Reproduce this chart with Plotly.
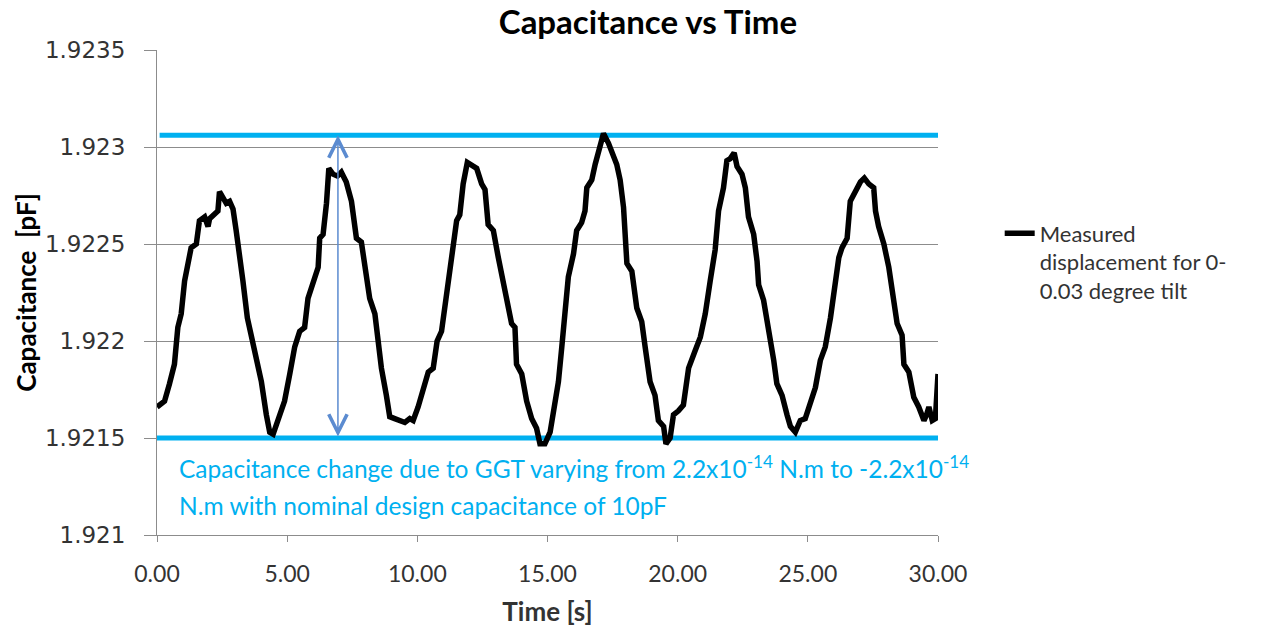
import plotly.graph_objects as go

# ---- data ----
time_s = [0.00, 0.29, 0.48, 0.67, 0.80, 0.93, 1.06, 1.19, 1.31, 1.51, 1.63, 1.83, 1.96, 2.02, 2.21, 2.34, 2.40, 2.53, 2.66, 2.79, 2.92,
          3.04, 3.17, 3.30, 3.47, 3.62, 3.75, 4.01, 4.20, 4.33, 4.46, 4.65, 4.90, 5.10, 5.29, 5.48, 5.67, 5.80, 5.99, 6.19, 6.25,
          6.38, 6.51, 6.60, 6.76, 6.93, 7.08, 7.27, 7.47, 7.60, 7.66, 7.85, 7.98, 8.17, 8.37, 8.49, 8.62, 8.81, 8.94, 9.13, 9.33,
          9.52, 9.71, 9.84, 10.03, 10.22, 10.42, 10.61, 10.76, 10.93, 11.06, 11.25, 11.38, 11.51, 11.63, 11.76, 11.92, 12.08,
          12.28, 12.47, 12.60, 12.72, 12.92, 13.11, 13.30, 13.49, 13.62, 13.75, 13.81, 14.01, 14.20, 14.39, 14.58, 14.71, 14.90,
          15.10, 15.22, 15.42, 15.55, 15.67, 15.80, 16.00, 16.12, 16.31, 16.44, 16.51, 16.70, 16.83, 17.02, 17.15, 17.34, 17.47,
          17.66, 17.79, 17.92, 18.05, 18.24, 18.43, 18.62, 18.75, 18.94, 19.13, 19.26, 19.46, 19.55, 19.71, 19.84, 20.03, 20.22,
          20.42, 20.55, 20.67, 20.87, 21.06, 21.25, 21.44, 21.57, 21.76, 21.89, 22.02, 22.17, 22.28, 22.47, 22.60, 22.72, 22.92,
          23.05, 23.11, 23.30, 23.49, 23.69, 23.81, 24.01, 24.20, 24.33, 24.52, 24.71, 24.90, 25.10, 25.29, 25.48, 25.67, 25.87,
          26.06, 26.19, 26.31, 26.51, 26.63, 26.83, 27.02, 27.17, 27.34, 27.53, 27.60, 27.72, 27.92, 28.11, 28.24, 28.43, 28.62,
          28.69, 28.88, 29.07, 29.26, 29.46, 29.56, 29.65, 29.78, 29.90, 30.00]
capacitance_pf = [1.92166, 1.92169, 1.92178, 1.92188, 1.92207, 1.92214, 1.92231, 1.92241, 1.92248, 1.92250, 1.92262, 1.92264,
                  1.92259, 1.92263, 1.92266, 1.92267, 1.92277, 1.92274, 1.92271, 1.92272, 1.92268, 1.92257, 1.92241, 1.92231,
                  1.92212, 1.92203, 1.92193, 1.92179, 1.92162, 1.92153, 1.92152, 1.92159, 1.92169, 1.92183, 1.92197, 1.92205,
                  1.92207, 1.92222, 1.92231, 1.92238, 1.92253, 1.92255, 1.92271, 1.92289, 1.92286, 1.92285, 1.92287, 1.92282,
                  1.92272, 1.92257, 1.92253, 1.92251, 1.92240, 1.92222, 1.92214, 1.92200, 1.92186, 1.92172, 1.92161, 1.92160,
                  1.92159, 1.92158, 1.92160, 1.92159, 1.92166, 1.92176, 1.92184, 1.92186, 1.92200, 1.92205, 1.92217, 1.92234,
                  1.92247, 1.92262, 1.92265, 1.92281, 1.92292, 1.92291, 1.92289, 1.92281, 1.92278, 1.92260, 1.92257, 1.92243,
                  1.92231, 1.92216, 1.92209, 1.92207, 1.92188, 1.92183, 1.92169, 1.92160, 1.92155, 1.92147, 1.92147, 1.92153,
                  1.92162, 1.92179, 1.92197, 1.92217, 1.92233, 1.92245, 1.92257, 1.92261, 1.92267, 1.92279, 1.92283, 1.92291,
                  1.92300, 1.92307, 1.92302, 1.92297, 1.92291, 1.92283, 1.92269, 1.92240, 1.92236, 1.92217, 1.92210, 1.92197,
                  1.92179, 1.92172, 1.92159, 1.92156, 1.92147, 1.92150, 1.92162, 1.92164, 1.92167, 1.92186, 1.92190, 1.92195,
                  1.92202, 1.92214, 1.92231, 1.92247, 1.92267, 1.92279, 1.92293, 1.92294, 1.92297, 1.92290, 1.92286, 1.92279,
                  1.92264, 1.92255, 1.92241, 1.92229, 1.92221, 1.92207, 1.92190, 1.92178, 1.92172, 1.92162, 1.92156, 1.92153,
                  1.92159, 1.92160, 1.92169, 1.92176, 1.92190, 1.92197, 1.92212, 1.92231, 1.92243, 1.92248, 1.92253, 1.92272,
                  1.92278, 1.92282, 1.92284, 1.92281, 1.92279, 1.92267, 1.92259, 1.92250, 1.92238, 1.92226, 1.92209, 1.92203,
                  1.92188, 1.92184, 1.92171, 1.92166, 1.92159, 1.92162, 1.92166, 1.92159, 1.92160, 1.92183]

upper_limit_x = [0.1, 30.0]
upper_limit_y = [1.92306, 1.92306]
lower_limit_x = [0.0, 30.0]
lower_limit_y = [1.9215, 1.9215]

arrow_time = 6.95
arrow_bottom = 1.9215
arrow_top = 1.92306

y_tick_values = [1.921, 1.9215, 1.922, 1.9225, 1.923, 1.9235]
y_tick_labels = ["1.921", "1.9215", "1.922", "1.9225", "1.923", "1.9235"]
x_tick_values = [0, 5, 10, 15, 20, 25, 30]
x_tick_labels = ["0.00", "5.00", "10.00", "15.00", "20.00", "25.00", "30.00"]

BLUE = "#00B0F0"
GRID = "#8C8C8C"
TXT = "#333333"
CAL = "Lato"

fig = go.Figure()
fig.add_trace(go.Scatter(x=upper_limit_x, y=upper_limit_y, mode="lines",
                         line=dict(color=BLUE, width=5), showlegend=False, hoverinfo="skip"))
fig.add_trace(go.Scatter(x=lower_limit_x, y=lower_limit_y, mode="lines",
                         line=dict(color=BLUE, width=5), showlegend=False, hoverinfo="skip"))
fig.add_trace(go.Scatter(x=time_s, y=capacitance_pf, mode="lines",
                         name="Measured<br>displacement for 0-<br>0.03 degree tilt",
                         line=dict(color="black", width=5.5)))

fig.add_annotation(x=arrow_time, y=arrow_top, ax=arrow_time, ay=arrow_bottom,
                   xref="x", yref="y", axref="x", ayref="y", text="",
                   showarrow=True, arrowhead=5, startarrowhead=5, arrowside="end+start",
                   arrowsize=2.4, startarrowsize=2.4, arrowwidth=1.5, arrowcolor="#5B8BD0")

fig.add_annotation(x=0.75, y=1.92135, xref="x", yref="y", xanchor="left", yanchor="middle",
                   text="Capacitance change due to GGT varying from 2.2x10<sup>-14</sup> N.m to -2.2x10<sup>-14</sup>",
                   showarrow=False, font=dict(family=CAL, size=24.5, color=BLUE))
fig.add_annotation(x=0.75, y=1.92115, xref="x", yref="y", xanchor="left", yanchor="middle",
                   text="N.m with nominal design capacitance of 10pF",
                   showarrow=False, font=dict(family=CAL, size=24.5, color=BLUE))

fig.update_layout(
    width=1278, height=630,
    margin=dict(l=157, r=340, t=50, b=95),
    paper_bgcolor="white", plot_bgcolor="white",
    title=dict(text="<b>Capacitance vs Time</b>", x=0.507, xref="container", xanchor="center",
               y=0.965, yref="container", yanchor="middle", font=dict(family=CAL, size=33, color="black")),
    legend=dict(x=1.079, y=0.665, xanchor="left", yanchor="top", valign="top",
                font=dict(family=CAL, size=22, color=TXT), bgcolor="rgba(0,0,0,0)"),
    xaxis=dict(range=[0, 30], tickvals=x_tick_values, ticktext=x_tick_labels, automargin=False,
               showgrid=False, zeroline=False, showline=True, linecolor=GRID, linewidth=1,
               ticks="outside", ticklen=6, tickcolor=GRID, ticklabelstandoff=12,
               tickfont=dict(family=CAL, size=23, color=TXT),
               title=dict(text="<b>Time [s]</b>", font=dict(family=CAL, size=26, color=TXT), standoff=17)),
    yaxis=dict(range=[1.921, 1.9235], tickvals=y_tick_values, ticktext=y_tick_labels, automargin=False,
               showgrid=True, gridcolor=GRID, gridwidth=1, zeroline=False,
               showline=True, linecolor=GRID, linewidth=1,
               ticks="outside", ticklen=12, tickcolor=GRID, ticklabelstandoff=14,
               tickfont=dict(family="DejaVu Sans", size=23, color=TXT),
               title=dict(text="<b>Capacitance  [pF]</b>", font=dict(family=CAL, size=26, color="black"), standoff=0)),
)

fig.write_html("out.html")
